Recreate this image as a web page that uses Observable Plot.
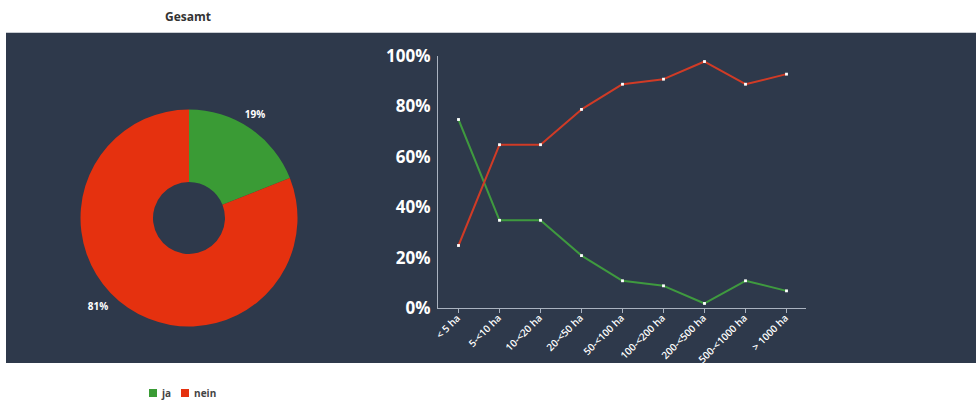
<!DOCTYPE html>
<html>
<head>
<meta charset="utf-8">
<script src="https://cdn.jsdelivr.net/npm/d3@7"></script>
<script src="https://cdn.jsdelivr.net/npm/@observablehq/plot@0.6"></script>
<style>
  body { margin: 0; background: #fff; font-family: "Open Sans", sans-serif; width: 978px; height: 403px; overflow: hidden; }
  #title { position: absolute; left: 165px; top: 8px; font-size: 12px; font-weight: 700; color: #333; }
  #chart { position: absolute; left: 6px; top: 32px; }
  #chart svg { display: block; background: #2e394b; border-top: 1px solid #c8ccd2; }
  #legend { position: absolute; left: 149px; top: 386px; font-size: 10px; font-weight: 700; color: #444; display: flex; gap: 10px; }
  #legend span.sw { display: inline-block; width: 8px; height: 8px; margin-right: 5px; vertical-align: -0px; }
</style>
</head>
<body>
<div id="title">Gesamt</div>
<div id="chart"></div>
<div id="legend"></div>
<script>
const categories = ["< 5 ha", "5-<10 ha", "10-<20 ha", "20-<50 ha", "50-<100 ha", "100-<200 ha", "200-<500 ha", "500-<1000 ha", "> 1000 ha"];
const jaValues = [75, 35, 35, 21, 11, 9, 2, 11, 7];
const neinValues = [25, 65, 65, 79, 89, 91, 98, 89, 93];
const seriesNames = ["ja", "nein"];
const seriesColors = ["#3a9b35", "#e5310f"];
const lineColors = ["#3f9a3f", "#d03b26"];
const pieValues = [19, 81];
const yTicks = [0, 20, 40, 60, 80, 100];

const table = [];
categories.forEach((c, i) => {
  table.push({cat: c, series: "ja", value: jaValues[i]});
  table.push({cat: c, series: "nein", value: neinValues[i]});
});
const pieData = seriesNames.map((s, i) => ({name: s, value: pieValues[i], color: seriesColors[i]}));

function pieMark(index, scales, values, dimensions) {
  const g = d3.create("svg:g").attr("transform", "translate(183,185)");
  const arcs = d3.pie().sort(null).value(d => d.value)(pieData);
  const arc = d3.arc().innerRadius(36).outerRadius(108.5);
  g.selectAll("path").data(arcs).join("path")
    .attr("d", arc).attr("fill", d => d.data.color);
  // labels placed outside the ring, along each slice's start-side direction
  const labelPos = [[66, -104], [-91, 88]];
  g.selectAll("text").data(arcs).join("text")
    .attr("x", (d, i) => labelPos[i][0])
    .attr("y", (d, i) => labelPos[i][1])
    .attr("dy", "0.35em")
    .attr("text-anchor", "middle")
    .attr("fill", "#fff").attr("font-size", 10).attr("font-weight", 700)
    .attr("font-family", "Open Sans, sans-serif")
    .text(d => Math.round(d.data.value) + "%");
  return g.node();
}

const plot = Plot.plot({
  width: 970,
  height: 330,
  marginLeft: 431,
  marginRight: 170,
  marginTop: 23,
  marginBottom: 55,
  style: {background: "#2e394b", fontFamily: "Open Sans, sans-serif", color: "#fff", overflow: "visible"},
  x: {type: "point", domain: categories, padding: 0.5, label: null},
  y: {domain: [0, 100], label: null},
  color: {domain: seriesNames, range: lineColors},
  marks: [
    pieMark,
    Plot.frame({anchor: "left", stroke: "#aab3c0"}),
    Plot.ruleY([0], {stroke: "#aab3c0"}),
    Plot.axisY({ticks: yTicks, tickSize: 0, tickPadding: 7, tickFormat: d => d + "%", fontSize: 17, fontWeight: 700, fill: "#fff", label: null}),
    Plot.axisX({tickSize: 5, tickRotate: -45, fontSize: 10, fontWeight: 600, fill: "#fff", stroke: "#aab3c0", tickPadding: 3, label: null}),
    Plot.line(table, {x: "cat", y: "value", z: "series", stroke: "series", strokeWidth: 2}),
    Plot.dot(table, {x: "cat", y: "value", symbol: "square", r: 1.6, fill: "#fff", stroke: null})
  ]
});
document.getElementById("chart").appendChild(plot);

const legend = document.getElementById("legend");
seriesNames.forEach((s, i) => {
  const item = document.createElement("div");
  item.innerHTML = `<span class="sw" style="background:${seriesColors[i]}"></span>${s}`;
  legend.appendChild(item);
});
</script>
</body>
</html>
